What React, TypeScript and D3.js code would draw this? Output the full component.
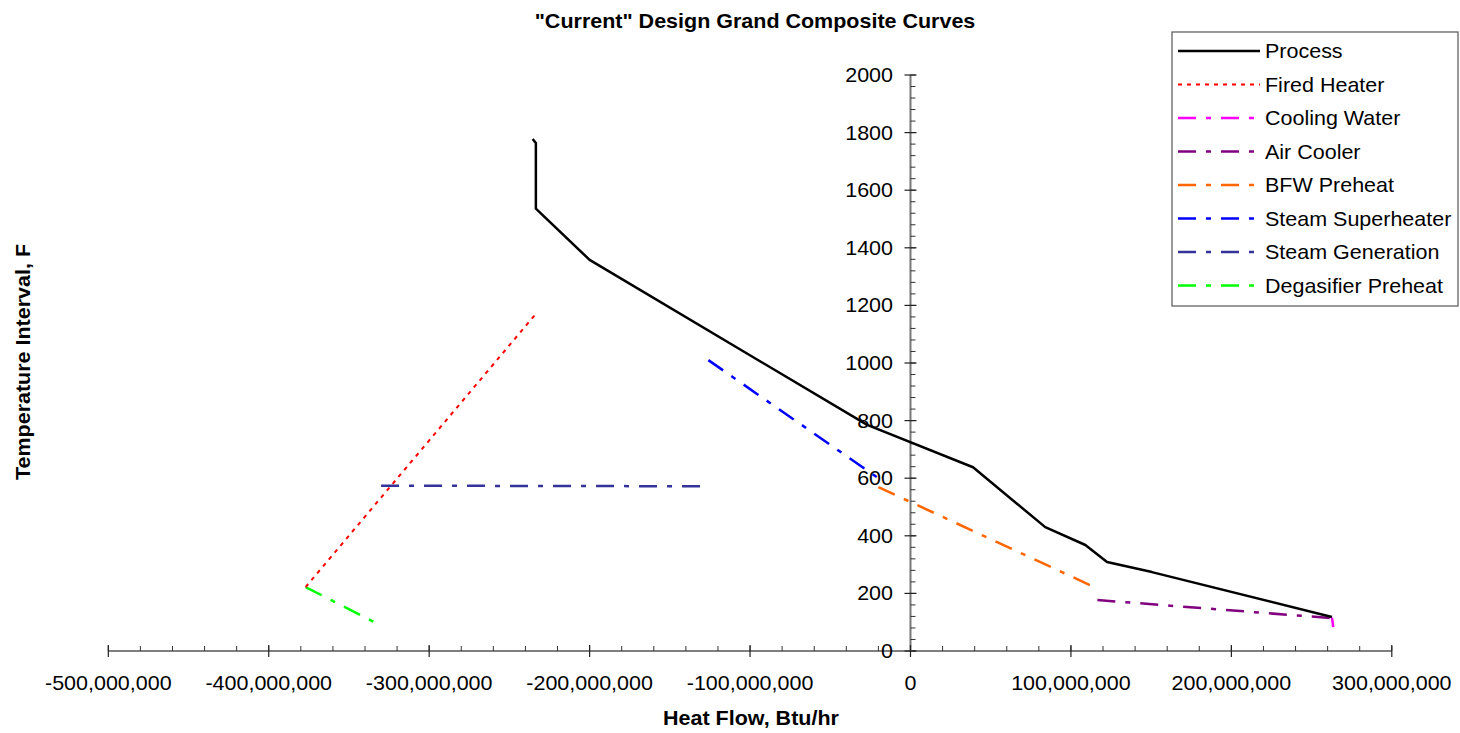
import React from "react";
import * as d3 from "d3";

// ---- Data (Heat flow in Btu/hr, temperature in F) ----
const processHeat = [-235.5e6, -233.5e6, -233.5e6, -200e6, -27e6, 39e6, 84e6, 109e6, 122.5e6, 150.5e6, 262.7e6];
const processTemp = [1778, 1764, 1536, 1358, 785, 638, 430, 368, 309, 274, 118];

const firedHeaterHeat = [-377e6, -233e6];
const firedHeaterTemp = [222, 1174];

const coolingWaterHeat = [262.7e6, 263.5e6];
const coolingWaterTemp = [116, 83];

const airCoolerHeat = [116.5e6, 262.7e6];
const airCoolerTemp = [177, 114];

const bfwPreheatHeat = [-20e6, 113e6];
const bfwPreheatTemp = [569, 226];

const steamSuperheaterHeat = [-126e6, -20e6];
const steamSuperheaterTemp = [1010, 600];

const steamGenerationHeat = [-330e6, -127e6];
const steamGenerationTemp = [574, 572];

const degasifierHeat = [-377e6, -333e6];
const degasifierTemp = [222, 97];

const xTicks = [-500e6, -400e6, -300e6, -200e6, -100e6, 0, 100e6, 200e6, 300e6];
const yTicks = [0, 200, 400, 600, 800, 1000, 1200, 1400, 1600, 1800, 2000];

const seriesNames = [
  "Process",
  "Fired Heater",
  "Cooling Water",
  "Air Cooler",
  "BFW Preheat",
  "Steam Superheater",
  "Steam Generation",
  "Degasifier Preheat",
];

const DASHDOT = "18,10,5,10";
const styles = [
  { color: "#000000", dash: "", width: 2.5 },
  { color: "#FF0000", dash: "4,5", width: 2 },
  { color: "#FF00FF", dash: DASHDOT, width: 2.5 },
  { color: "#800080", dash: DASHDOT, width: 2.5 },
  { color: "#FF6600", dash: DASHDOT, width: 2.5 },
  { color: "#0000FF", dash: DASHDOT, width: 2.5 },
  { color: "#333399", dash: DASHDOT, width: 2.5 },
  { color: "#00FF00", dash: DASHDOT, width: 2.5 },
];

const seriesData = [
  [processHeat, processTemp],
  [firedHeaterHeat, firedHeaterTemp],
  [coolingWaterHeat, coolingWaterTemp],
  [airCoolerHeat, airCoolerTemp],
  [bfwPreheatHeat, bfwPreheatTemp],
  [steamSuperheaterHeat, steamSuperheaterTemp],
  [steamGenerationHeat, steamGenerationTemp],
  [degasifierHeat, degasifierTemp],
];

const FONT = "'Liberation Sans', Arial, Helvetica, sans-serif";
const SX = 1.075;

function T(props: {
  x: number;
  y: number;
  anchor?: string;
  size?: number;
  bold?: boolean;
  rotate?: number;
  children: React.ReactNode;
}) {
  const { x, y, anchor = "start", size = 20, bold = false, rotate = 0 } = props;
  const tf = rotate
    ? `translate(${x},${y}) rotate(${rotate}) scale(${SX},1)`
    : `translate(${x},${y}) scale(${SX},1)`;
  return (
    <g transform={tf}>
      <text
        x={0}
        y={0}
        textAnchor={anchor}
        fontFamily={FONT}
        fontSize={size}
        fontWeight={bold ? "bold" : "normal"}
        fill="#000"
      >
        {props.children}
      </text>
    </g>
  );
}

export default function App() {
  const W = 1460;
  const H = 733;
  const x = d3.scaleLinear().domain([-500e6, 300e6]).range([108.3, 1391.8]);
  const y = d3.scaleLinear().domain([0, 2000]).range([651, 75]);
  const fmt = d3.formatLocale({
    decimal: ".",
    thousands: ",",
    grouping: [3],
    currency: ["$", ""],
    minus: "-",
  }).format(",");

  const line = d3
    .line<[number, number]>()
    .x((d) => x(d[0]))
    .y((d) => y(d[1]));

  const x0 = x(0);
  const y0 = y(0);

  const xMinor: number[] = [];
  for (let v = -500e6; v <= 300e6; v += 20e6) xMinor.push(v);
  const yMinor: number[] = [];
  for (let v = 0; v <= 2000; v += 40) yMinor.push(v);

  const legX = 1172;
  const legY = 32;
  const legW = 286;
  const legH = 274;
  const rowY = (i: number) => 51 + i * 33.5;

  return (
    <svg
      width={W}
      height={H}
      style={{ position: "absolute", left: 0, top: 0, background: "#fff" }}
    >
      <rect x={0} y={0} width={W} height={H} fill="#fff" />
      {/* Title */}
      <T x={755} y={28} anchor="middle" bold size={20}>
        "Current" Design Grand Composite Curves
      </T>

      {/* Axes */}
      <line x1={x(-500e6)} x2={x(300e6)} y1={y0} y2={y0} stroke="#555" strokeWidth={1.5} />
      <line x1={x0} x2={x0} y1={y(0)} y2={y(2000)} stroke="#777" strokeWidth={2} />
      {xMinor.map((v) => (
        <line key={"xm" + v} x1={x(v)} x2={x(v)} y1={y0 - 5} y2={y0} stroke="#333" strokeWidth={1} />
      ))}
      {xTicks.map((v) => (
        <line key={"xt" + v} x1={x(v)} x2={x(v)} y1={y0 - 6} y2={y0 + 6} stroke="#222" strokeWidth={1.2} />
      ))}
      {yMinor.map((v) => (
        <line key={"ym" + v} x1={x0} x2={x0 + 5} y1={y(v)} y2={y(v)} stroke="#333" strokeWidth={1} />
      ))}
      {yTicks.map((v) => (
        <line key={"yt" + v} x1={x0 - 6} x2={x0 + 6} y1={y(v)} y2={y(v)} stroke="#222" strokeWidth={1.2} />
      ))}

      {/* Tick labels */}
      {xTicks.map((v) => (
        <T key={"xl" + v} x={x(v)} y={690} anchor="middle" size={20}>
          {fmt(v)}
        </T>
      ))}
      {yTicks.map((v) => (
        <T key={"yl" + v} x={893} y={y(v) + 7} anchor="end" size={20}>
          {String(v)}
        </T>
      ))}

      {/* Axis titles */}
      <T x={663} y={725} anchor="start" bold size={20}>
        Heat Flow, Btu/hr
      </T>
      <T x={30} y={362} anchor="middle" bold size={20} rotate={-90}>
        Temperature Interval, F
      </T>

      {/* Series */}
      {seriesData.map((s, i) => {
        const pts = s[0].map((h, j) => [h, s[1][j]] as [number, number]);
        const st = styles[i];
        return (
          <path
            key={"s" + i}
            d={line(pts) || ""}
            fill="none"
            stroke={st.color}
            strokeWidth={st.width}
            strokeDasharray={st.dash || undefined}
            strokeLinejoin="round"
          />
        );
      }).reverse()}

      {/* Legend */}
      <rect x={legX} y={legY} width={legW} height={legH} fill="#fff" stroke="#555" strokeWidth={1.2} />
      {seriesNames.map((name, i) => {
        const st = styles[i];
        return (
          <g key={"lg" + i}>
            <line
              x1={1178}
              x2={1260}
              y1={rowY(i)}
              y2={rowY(i)}
              stroke={st.color}
              strokeWidth={st.width}
              strokeDasharray={st.dash || undefined}
            />
            <T x={1265} y={rowY(i) + 7} size={20}>
              {name}
            </T>
          </g>
        );
      })}
    </svg>
  );
}
